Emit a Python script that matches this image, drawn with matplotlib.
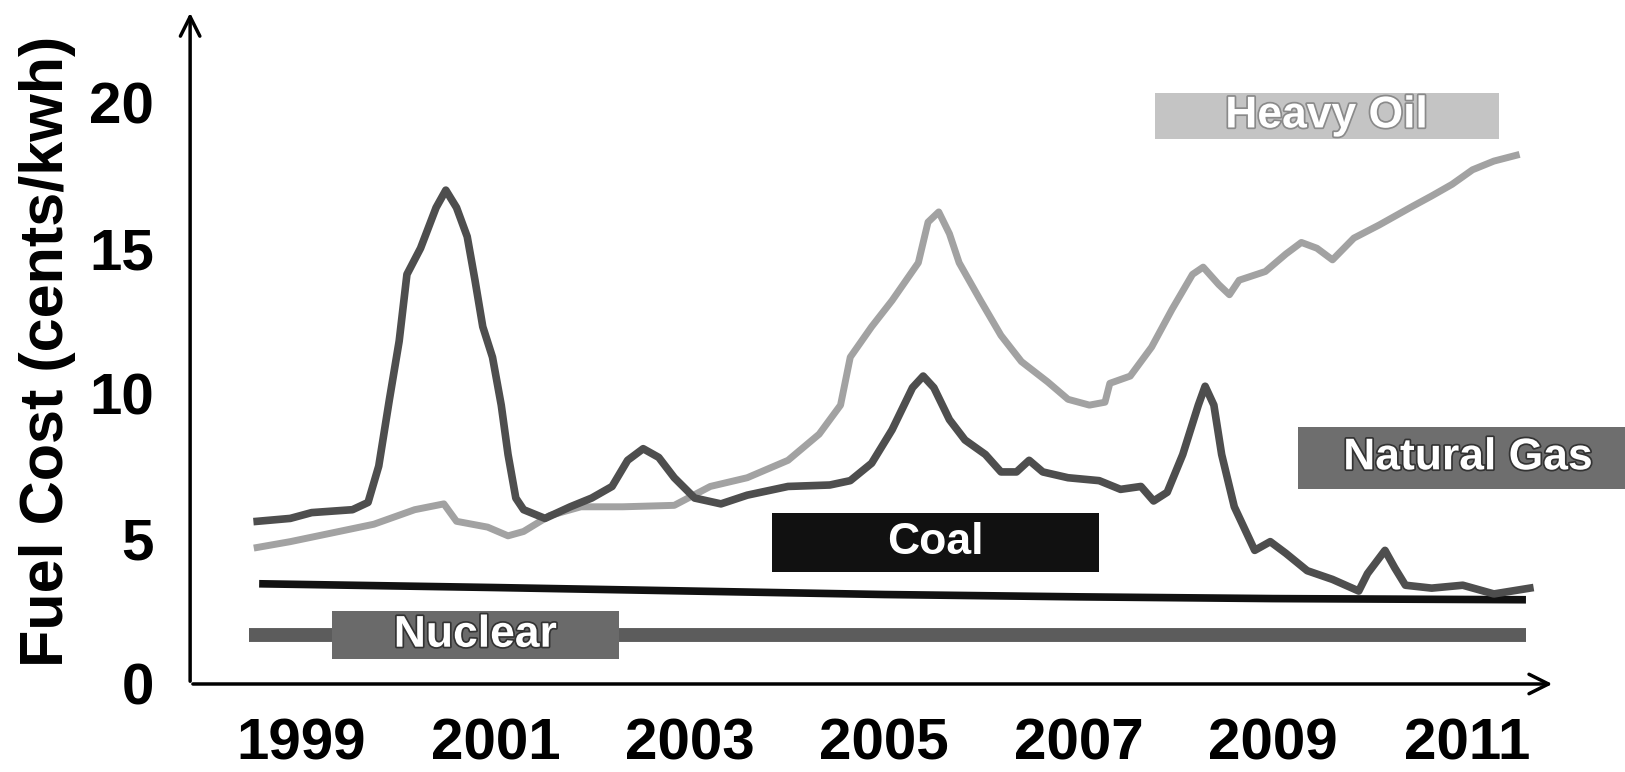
import matplotlib
matplotlib.use("Agg")
import matplotlib.pyplot as plt
import matplotlib.patheffects as pe
from matplotlib.patches import Rectangle

plt.rcParams["font.family"] = ["Liberation Sans", "DejaVu Sans"]
plt.rcParams["font.weight"] = "bold"

# natural gas (years, cents/kwh)
gas_years = [1998.55, 1998.89, 1999.11, 1999.53, 1999.69, 1999.80, 1999.91, 2000.01,
             2000.09, 2000.23, 2000.39, 2000.49, 2000.60, 2000.71, 2000.79, 2000.87,
             2000.97, 2001.06, 2001.13, 2001.21, 2001.29, 2001.51, 2001.77, 2001.99,
             2002.20, 2002.36, 2002.52, 2002.68, 2002.84, 2003.05, 2003.32, 2003.59,
             2004.01, 2004.44, 2004.65, 2004.87, 2005.08, 2005.29, 2005.40, 2005.51,
             2005.67, 2005.83, 2006.04, 2006.20, 2006.36, 2006.49, 2006.63, 2006.89,
             2007.21, 2007.43, 2007.64, 2007.77, 2007.91, 2008.07, 2008.23, 2008.30,
             2008.39, 2008.47, 2008.60, 2008.81, 2008.97, 2009.13, 2009.35, 2009.61,
             2009.88, 2009.97, 2010.15, 2010.25, 2010.36, 2010.63, 2010.95, 2011.27,
             2011.64]
gas_cost = [5.6, 5.7, 5.9, 6.0, 6.25, 7.5, 9.8, 11.8,
            14.1, 15.0, 16.4, 17.0, 16.4, 15.4, 13.9, 12.3,
            11.25, 9.6, 7.9, 6.4, 6.0, 5.7, 6.1, 6.4,
            6.8, 7.7, 8.1, 7.8, 7.1, 6.4, 6.2, 6.5,
            6.8, 6.85, 7.0, 7.6, 8.75, 10.2, 10.6, 10.2,
            9.1, 8.4, 7.9, 7.3, 7.3, 7.7, 7.3, 7.1,
            7.0, 6.7, 6.8, 6.3, 6.6, 7.9, 9.6, 10.25,
            9.6, 7.9, 6.1, 4.6, 4.9, 4.5, 3.9, 3.6,
            3.2, 3.8, 4.6, 4.0, 3.4, 3.3, 3.4, 3.1,
            3.3]

# heavy oil
oil_years = [1998.55, 1998.89, 1999.32, 1999.75, 2000.17, 2000.47, 2000.60, 2000.92,
             2001.13, 2001.29, 2001.56, 2001.88, 2002.31, 2002.84, 2003.21, 2003.59,
             2004.01, 2004.33, 2004.55, 2004.65, 2004.87, 2005.08, 2005.35, 2005.45,
             2005.56, 2005.67, 2005.77, 2005.99, 2006.20, 2006.41, 2006.68, 2006.89,
             2007.11, 2007.27, 2007.32, 2007.53, 2007.75, 2007.96, 2008.17, 2008.28,
             2008.44, 2008.55, 2008.65, 2008.92, 2009.13, 2009.29, 2009.45, 2009.61,
             2009.83, 2010.09, 2010.25, 2010.41, 2010.63, 2010.84, 2011.05, 2011.27,
             2011.50]
oil_cost = [4.7, 4.9, 5.2, 5.5, 6.0, 6.2, 5.6, 5.4,
            5.1, 5.25, 5.8, 6.1, 6.1, 6.15, 6.8, 7.1,
            7.7, 8.6, 9.6, 11.25, 12.3, 13.2, 14.5, 15.9,
            16.25, 15.5, 14.5, 13.2, 12.0, 11.1, 10.4, 9.8,
            9.6, 9.7, 10.35, 10.6, 11.6, 12.9, 14.1, 14.35,
            13.75, 13.4, 13.9, 14.2, 14.8, 15.2, 15.0, 14.6,
            15.35, 15.8, 16.1, 16.4, 16.8, 17.2, 17.7, 18.0,
            18.2]

coal_years = [1998.57, 2001.0, 2003.0, 2005.0, 2007.0, 2009.0, 2011.6]
coal_cost = [3.45, 3.32, 3.2, 3.08, 3.0, 2.94, 2.9]

nuclear_years = [1998.47, 2011.6]
nuclear_cost = [1.68, 1.68]

year_ticks = [1999, 2001, 2003, 2005, 2007, 2009, 2011]
cost_ticks = [0, 5, 10, 15, 20]

# label boxes: text, x0, x1, y0, y1, face, text edge
labels = [
    ("Heavy Oil", 2007.78, 2011.32, 18.75, 20.36, "#c4c4c4", "#8a8a8a"),
    ("Natural Gas", 2009.26, 2012.75, 6.71, 8.86, "#6e6e6e", "#333333"),
    ("Coal", 2003.85, 2007.21, 3.86, 5.89, "#111111", None),
    ("Nuclear", 1999.32, 2002.27, 0.86, 2.50, "#6a6a6a", "#333333"),
]

fig = plt.figure(figsize=(16.25, 7.72), dpi=100)
ax = fig.add_axes([0.117, 0.114, 0.840, 0.873])

ax.plot(nuclear_years, nuclear_cost, color="#5c5c5c", lw=10, solid_capstyle="butt", zorder=2)
ax.plot(coal_years, coal_cost, color="#111111", lw=5.5, solid_capstyle="butt", zorder=2)
ax.plot(oil_years, oil_cost, color="#a2a2a2", lw=5, zorder=3)
ax.plot(gas_years, gas_cost, color="#4e4e4e", lw=5.5, zorder=4)

for text, x0, x1, y0, y1, face, edge in labels:
    ax.add_patch(Rectangle((x0, y0), x1 - x0, y1 - y0, facecolor=face,
                           edgecolor="none", zorder=5, clip_on=False))
    t = ax.text((x0 + x1) / 2, (y0 + y1) / 2, text, color="white", fontsize=32,
                fontweight="bold", ha="center", va="center", zorder=6, clip_on=False)
    if edge:
        t.set_path_effects([pe.withStroke(linewidth=2.5, foreground=edge)])

ax.set_xlim(1997.86, 2011.9)
ax.set_ylim(0, 23.2)
ax.set_xticks(year_ticks)
ax.set_yticks(cost_ticks)
ax.tick_params(axis="both", length=0, labelsize=42)
ax.tick_params(axis="x", pad=24)
ax.tick_params(axis="y", pad=26)
for lbl in ax.get_xticklabels() + ax.get_yticklabels():
    lbl.set_fontweight("bold")

for s in ax.spines.values():
    s.set_visible(False)

ax.annotate("", xy=(1, 0), xytext=(0, 0), xycoords="axes fraction",
            arrowprops=dict(arrowstyle="->", lw=2.5, color="black", mutation_scale=35))
ax.annotate("", xy=(0, 1), xytext=(0, 0), xycoords="axes fraction",
            arrowprops=dict(arrowstyle="->", lw=2.5, color="black", mutation_scale=35))

fig.text(0.029, 0.545, "Fuel Cost (cents/kwh)", rotation=90, ha="center", va="center",
         fontsize=44, fontweight="bold")

fig.savefig("out.png", dpi=100)
plt.close(fig)
